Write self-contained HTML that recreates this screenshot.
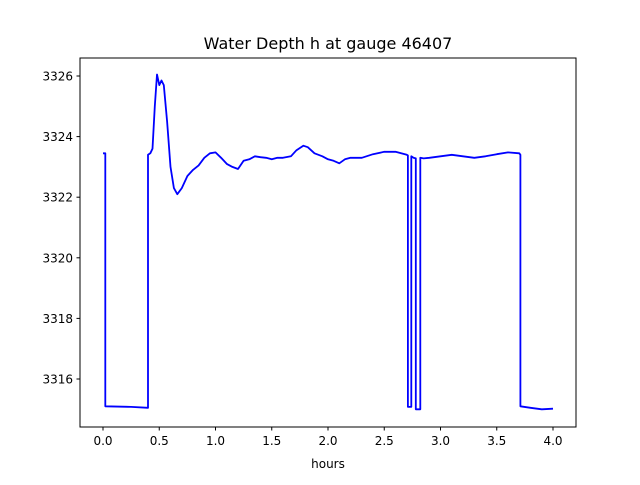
<!DOCTYPE html>
<html><head><meta charset="utf-8"><style>
body{margin:0;background:#fff;font-family:"Liberation Sans","DejaVu Sans",sans-serif}
</style></head><body>
<svg width="640" height="480" xmlns="http://www.w3.org/2000/svg" font-family="DejaVu Sans, Liberation Sans, sans-serif">
<rect width="640" height="480" fill="#fff"/>
<text x="328" y="49" text-anchor="middle" font-size="16">Water Depth h at gauge 46407</text>
<text x="328" y="468" text-anchor="middle" font-size="12">hours</text>
<g id="ticks"></g>
<path id="line" fill="none" stroke="#0000ff" stroke-width="1.8" stroke-linejoin="round"/>
<rect x="80" y="58" width="496" height="369" fill="none" stroke="#000" stroke-width="1"/>
</svg>
<script>
const hours=[0,0.02,0.02,0.25,0.4,0.4,0.42,0.44,0.46,0.48,0.5,0.52,0.54,0.57,0.6,0.63,0.66,0.7,0.75,0.8,0.85,0.9,0.95,1.0,1.05,1.1,1.15,1.2,1.25,1.3,1.35,1.4,1.45,1.5,1.55,1.6,1.67,1.72,1.78,1.82,1.88,1.95,2.0,2.05,2.1,2.15,2.2,2.3,2.4,2.5,2.6,2.7,2.71,2.71,2.74,2.74,2.76,2.78,2.78,2.82,2.82,2.85,2.9,3.0,3.1,3.2,3.3,3.4,3.5,3.6,3.7,3.71,3.71,3.8,3.9,4.0];
const depth=[3323.45,3323.45,3315.1,3315.08,3315.05,3323.4,3323.45,3323.6,3325.0,3326.05,3325.7,3325.85,3325.7,3324.5,3323.0,3322.3,3322.1,3322.3,3322.7,3322.9,3323.05,3323.3,3323.45,3323.48,3323.3,3323.1,3323.0,3322.93,3323.2,3323.25,3323.35,3323.32,3323.3,3323.25,3323.3,3323.3,3323.35,3323.55,3323.7,3323.65,3323.45,3323.35,3323.25,3323.2,3323.12,3323.25,3323.3,3323.3,3323.42,3323.5,3323.5,3323.4,3323.38,3315.08,3315.08,3323.35,3323.3,3323.28,3315.0,3315.0,3323.3,3323.28,3323.3,3323.35,3323.4,3323.35,3323.3,3323.35,3323.42,3323.48,3323.45,3323.4,3315.1,3315.05,3315.0,3315.02];
const xTicks=[0,0.5,1,1.5,2,2.5,3,3.5,4];
const yTicks=[3316,3318,3320,3322,3324,3326];
const xs=h=>103+112.5*h, ys=v=>379-(v-3316)*30.3;
const NS="http://www.w3.org/2000/svg", g=document.getElementById('ticks');
function mk(t,a){const e=document.createElementNS(NS,t);for(const k in a)e.setAttribute(k,a[k]);g.appendChild(e);return e;}
xTicks.forEach(t=>{
 const l=mk('line',{x1:xs(t),x2:xs(t),y1:427,y2:430.5,stroke:'#000'});
 
 
 const tx=mk('text',{x:xs(t),y:445,'text-anchor':'middle','font-size':12});
 
 
 tx.textContent=t.toFixed(1);
});
yTicks.forEach(t=>{
 const l=mk('line',{x1:76.5,x2:80,y1:ys(t),y2:ys(t),stroke:'#000'});
 
 
 const tx=mk('text',{x:73,y:ys(t)+4.5,'text-anchor':'end','font-size':12});
 
 
 tx.textContent=t;
});
document.getElementById('line').setAttribute('d',hours.map((h,i)=>(i?'L':'M')+xs(h).toFixed(1)+' '+ys(depth[i]).toFixed(1)).join(' '));
</script>
</body></html>
